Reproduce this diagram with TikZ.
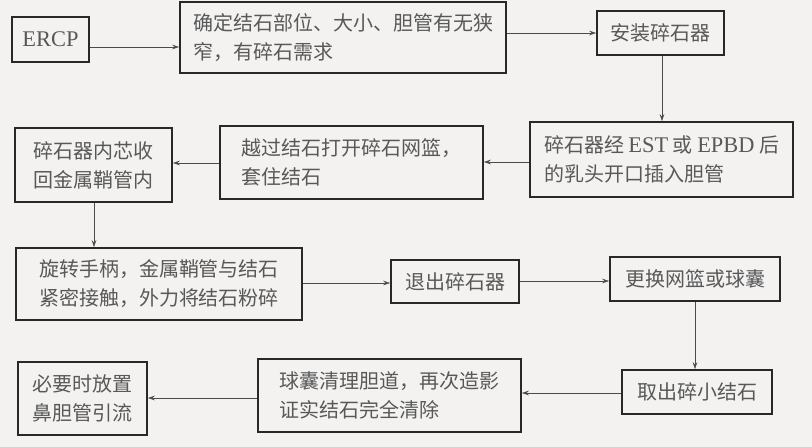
\documentclass[tikz,border=0pt]{standalone}
\usepackage{fontspec}
\newfontfamily\cjk{Noto Sans CJK SC}
\newfontfamily\latf[Scale=1.12]{Liberation Serif}
\usetikzlibrary{arrows.meta}
\definecolor{bg}{RGB}{243,242,241}
\definecolor{frame}{RGB}{40,40,40}
\definecolor{txt}{RGB}{88,88,88}
\definecolor{arrc}{RGB}{75,75,75}
\newcommand\lt[1]{{\latf #1}}
\begin{document}
\begin{tikzpicture}[x=1pt,y=-1pt,
  box/.style={draw=frame,line width=1.5pt,fill=bg,inner sep=0pt,align=left,text=txt,
    font=\fontsize{20}{29}\selectfont\cjk},
  arr/.style={draw=arrc,line width=0.6pt,-{Stealth[length=7pt,width=4.5pt]}}]
\fill[bg] (0,0) rectangle (812,447);
\useasboundingbox (0,0) rectangle (812,447);
% boxes
\node[box,minimum width=77,minimum height=45] (b1) at (50.5,39.5) {\lt{ERCP}};
\node[box,minimum width=326,minimum height=71] (b2) at (343,37.5) {确定结石部位、大小、胆管有无狭\\窄，有碎石需求};
\node[box,minimum width=127,minimum height=44] (b3) at (660.5,33) {安装碎石器};
\node[box,minimum width=263,minimum height=75] (b4) at (661.5,159.5) {碎石器经 \lt{EST} 或 \lt{EPBD} 后\\的乳头开口插入胆管};
\node[box,minimum width=263,minimum height=73] (b5) at (351.5,162.5) {越过结石打开碎石网篮，\\套住结石};
\node[box,minimum width=157,minimum height=74] (b6) at (93.5,165) {碎石器内芯收\\回金属鞘管内};
\node[box,minimum width=286,minimum height=72] (b7) at (159,284) {旋转手柄，金属鞘管与结石\\紧密接触，外力将结石粉碎};
\node[box,minimum width=128,minimum height=43] (b8) at (455,281.5) {退出碎石器};
\node[box,minimum width=170,minimum height=44] (b9) at (695,279) {更换网篮或球囊};
\node[box,minimum width=150,minimum height=44] (b10) at (697,392) {取出碎小结石};
\node[box,minimum width=263,minimum height=73] (b11) at (389.5,395.5) {球囊清理胆道，再次造影\\证实结石完全清除};
\node[box,minimum width=129,minimum height=73] (b12) at (82.5,398.5) {必要时放置\\鼻胆管引流};
% connectors
\draw[arr] (b1.east|-0,47) -- (b2.west|-0,47);
\draw[arr] (b2.east|-0,33) -- (b3.west|-0,33);
\draw[arr] (b3.south-|662,0) -- (b4.north-|662,0);
\draw[arr] (b4.west|-0,162) -- (b5.east|-0,162);
\draw[arr] (b5.west|-0,163) -- (b6.east|-0,163);
\draw[arr] (b6.south-|94,0) -- (b7.north-|94,0);
\draw[arr] (b7.east|-0,283) -- (b8.west|-0,283);
\draw[arr] (b8.east|-0,281) -- (b9.west|-0,281);
\draw[arr] (b9.south-|695,0) -- (b10.north-|695,0);
\draw[arr] (b10.west|-0,393) -- (b11.east|-0,393);
\draw[arr] (b11.west|-0,398) -- (b12.east|-0,398);
\end{tikzpicture}
\end{document}
